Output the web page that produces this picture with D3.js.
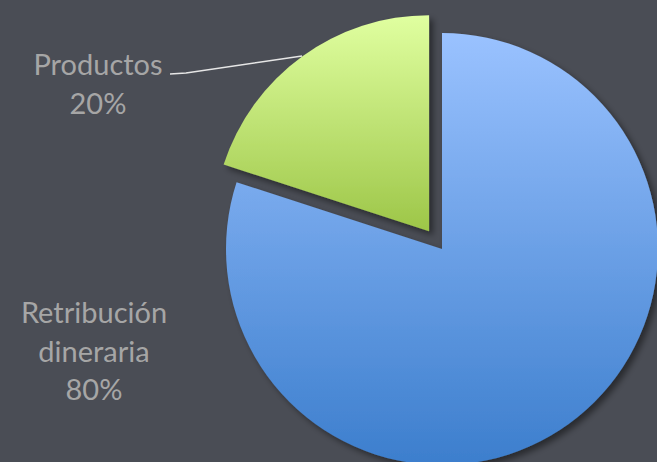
<!DOCTYPE html>
<html>
<head>
<meta charset="utf-8">
<script src="https://cdn.jsdelivr.net/npm/d3@7"></script>
<style>
  html, body { margin: 0; padding: 0; background: #4a4d55; }
  svg { display: block; }
</style>
</head>
<body>
<div id="chart"></div>
<script>
var categories = ["Retribución dineraria", "Productos"];
var values = [80, 20];
var labelLines = [["Retribución", "dineraria", "80%"], ["Productos", "20%"]];

var width = 657;
var height = 462;
var cx = 442, cy = 249;
var radius = 216;
var explode = [0, 22];

var svg = d3.select("#chart")
  .append("svg")
  .attr("width", width)
  .attr("height", height);

svg.append("rect")
  .attr("width", width)
  .attr("height", height)
  .attr("fill", "#4a4d55");

var defs = svg.append("defs");

// gradients, top light to bottom dark
var grads = [
  {id: "gBlue", top: "#9ac2ff", bottom: "#3c7ecd"},
  {id: "gGreen", top: "#e0ffa0", bottom: "#9dc648"}
];
grads.forEach(function (g) {
  var lg = defs.append("linearGradient")
    .attr("id", g.id)
    .attr("x1", 0).attr("y1", 0)
    .attr("x2", 0).attr("y2", 1);
  lg.append("stop").attr("offset", "0%").attr("stop-color", g.top);
  lg.append("stop").attr("offset", "100%").attr("stop-color", g.bottom);
});

var filter = defs.append("filter")
  .attr("id", "shadow")
  .attr("x", "-20%").attr("y", "-20%")
  .attr("width", "140%").attr("height", "140%");
filter.append("feDropShadow")
  .attr("dx", 4).attr("dy", 4)
  .attr("stdDeviation", 3)
  .attr("flood-color", "#000")
  .attr("flood-opacity", 0.45);

var pie = d3.pie().sort(null).startAngle(0).endAngle(2 * Math.PI);
var arcs = pie(values);

var arc = d3.arc().innerRadius(0).outerRadius(radius);

var g = svg.append("g").attr("transform", `translate(${cx},${cy})`);

g.selectAll("path.slice")
  .data(arcs)
  .enter()
  .append("path")
  .attr("class", "slice")
  .attr("d", arc)
  .attr("fill", function (d, i) { return "url(#" + grads[i].id + ")"; })
  .attr("filter", "url(#shadow)")
  .attr("transform", function (d, i) {
    var mid = (d.startAngle + d.endAngle) / 2;
    var dx = Math.sin(mid) * explode[i];
    var dy = -Math.cos(mid) * explode[i];
    return `translate(${dx},${dy})`;
  });

// leader line for Productos
svg.append("path")
  .attr("d", "M170,74 L186,73 L302,56")
  .attr("fill", "none")
  .attr("stroke", "#e6e6e6")
  .attr("stroke-width", 1.5);

var labelPos = [{x: 94, y: 323}, {x: 98, y: 75}];
var lineHeight = 38.5;

labelLines.forEach(function (lines, i) {
  var t = svg.append("text")
    .attr("x", labelPos[i].x)
    .attr("y", labelPos[i].y)
    .attr("text-anchor", "middle")
    .attr("fill", "#a6a6a6")
    .style("font-family", "Lato, 'Open Sans', sans-serif")
    .style("font-size", "29px");
  lines.forEach(function (s, j) {
    t.append("tspan")
      .attr("x", labelPos[i].x)
      .attr("y", labelPos[i].y + j * lineHeight)
      .text(s);
  });
});
</script>
</body>
</html>
